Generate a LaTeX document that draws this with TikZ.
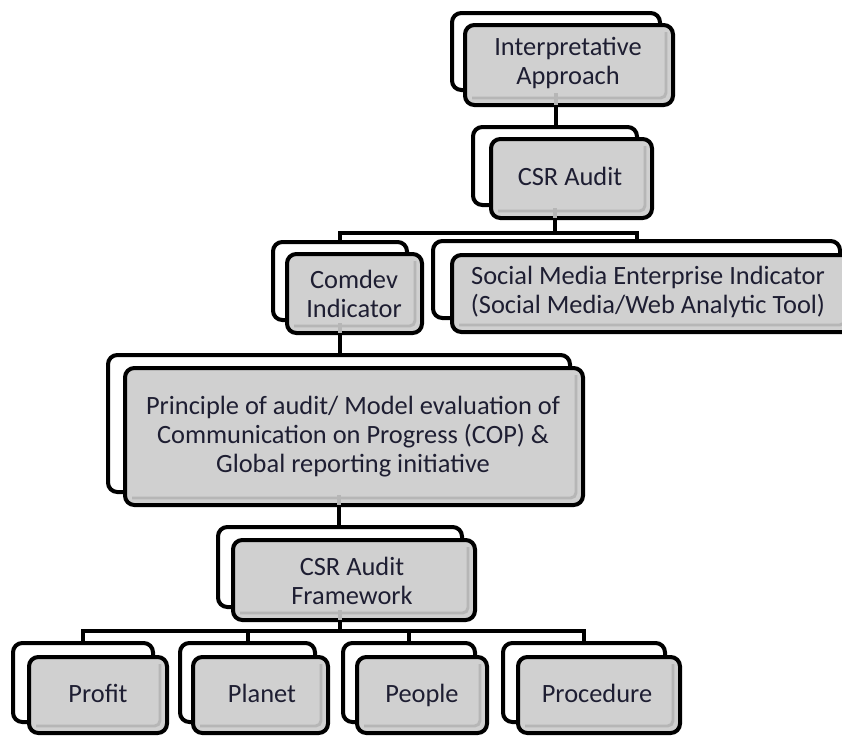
\documentclass[tikz,border=0pt]{standalone}
\usepackage{fontspec}
\setmainfont{Carlito}
\usetikzlibrary{fit}
\pgfdeclarelayer{bg}
\pgfsetlayers{bg,main}
\definecolor{boxfill}{RGB}{208,208,208}
\definecolor{bevelc}{RGB}{182,182,182}
\definecolor{txt}{RGB}{30,30,50}
\newcommand\twobox[9]{%
  \node[backbox,fit={(#2,#3) (#4,#5)}] (#1-b) {};
  \node[frontbox,fit={(#6,#7) (#8,#9)}] (#1) {};
  \draw[bevel] ([shift={(-9,9)}]#1.north east) -- ([shift={(-9,-9)}]#1.south east) -- ([shift={(9,-9)}]#1.south west);
}
\begin{document}
\begin{tikzpicture}[x=0.75pt,y=-0.75pt,
  backbox/.style={draw=black,line width=3pt,fill=white,rounded corners=7pt,inner sep=0pt},
  frontbox/.style={draw=black,line width=3pt,fill=boxfill,rounded corners=7pt,inner sep=0pt},
  conn/.style={line width=3pt,draw=black},
  ghost/.style={line width=3pt,draw=bevelc,shorten <=1pt,shorten >=1.6pt},
  bevel/.style={line width=2.2pt,draw=bevelc,rounded corners=4pt},
  lbl/.style={text=txt,font=\fontsize{19.8}{21.75}\selectfont,align=center,inner sep=0pt},
  one/.style={lbl,text height=12.7pt,text depth=0pt}]
\useasboundingbox (0,0) rectangle (842,736);
\clip (0,0) rectangle (842,736);

\twobox{A}{452}{13}{660}{90}{465}{25}{673}{105}
\twobox{B}{473}{127}{637}{205}{491}{139}{652}{218}
\twobox{C}{273}{242}{407}{320}{287}{254}{422}{333}
\twobox{D}{433}{241}{840}{318}{452}{255}{852}{332}
\twobox{E}{108}{355}{570}{492}{125}{368}{583}{505}
\twobox{F}{218}{527}{462}{607}{233}{540}{475}{620}
\twobox{P1}{13}{643}{153}{722}{29}{657}{167}{733}
\twobox{P2}{180}{643}{315}{722}{193}{657}{328}{733}
\twobox{P3}{343}{643}{475}{722}{357}{657}{487}{733}
\twobox{P4}{503}{643}{665}{722}{518}{657}{680}{733}

\draw[ghost] (A-b.south) -- (A-b.south |- A.south);
\draw[ghost] (B-b.south) -- (B-b.south |- B.south);
\draw[ghost] (C-b.south) -- (C-b.south |- C.south);
\draw[ghost] (E-b.south) -- (E-b.south |- E.south);
\draw[ghost] (F-b.south) -- (F-b.south |- F.south);

\node[lbl] (A-t) at (568,63) {Interpretative\\Approach};
\node[one] (B-t) at (570,177) {CSR Audit};
\node[lbl] (C-t) at (354,294) {Comdev\\Indicator};
\node[lbl] (D-t) at (648,292) {Social Media Enterprise Indicator\\(Social Media/Web Analytic Tool)};
\node[lbl] (E-t) at (353,437) {Principle of audit/ Model evaluation of\\Communication on Progress (COP) \&\\Global reporting initiative};
\node[lbl] (F-t) at (352,581) {CSR Audit\\Framework};
\node[one] (P1-t) at (98,694) {Profit};
\node[one] (P2-t) at (262,694) {Planet};
\node[one] (P3-t) at (422,694) {People};
\node[one] (P4-t) at (597,694) {Procedure};

\coordinate (bar1y) at (0,233);
\coordinate (bar2y) at (0,631);
\begin{pgfonlayer}{bg}
\draw[conn] (A-b.center) -- (A-b.center |- B-b.north);
\draw[conn] (B-b.center) -- (B-b.center |- bar1y) -| (C-b.north);
\draw[conn] (B-b.center |- bar1y) -| (D-b.north);
\draw[conn] (C-b.center) -- (C-b.center |- E-b.north);
\draw[conn] (E-b.center) -- (E-b.center |- F-b.north);
\draw[conn] (F-b.center) -- (F-b.center |- bar2y) -| (P1-b.north);
\draw[conn] (F-b.center |- bar2y) -| (P2-b.north);
\draw[conn] (F-b.center |- bar2y) -| (P3-b.north);
\draw[conn] (F-b.center |- bar2y) -| (P4-b.north);
\end{pgfonlayer}
\end{tikzpicture}
\end{document}
